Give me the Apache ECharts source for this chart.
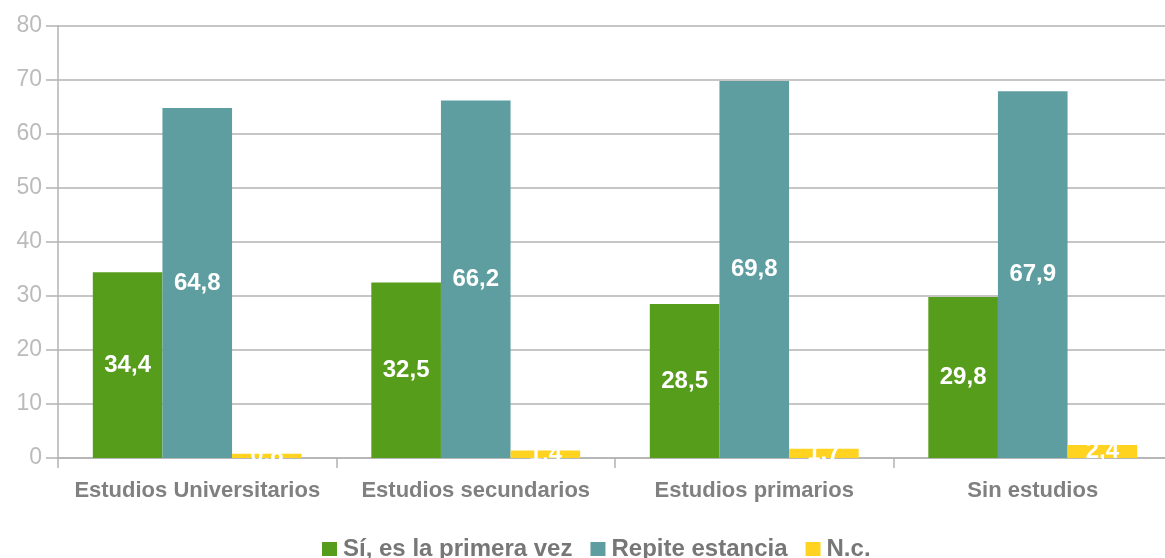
<!DOCTYPE html>
<html><head><meta charset="utf-8">
<script src="https://cdn.jsdelivr.net/npm/echarts@6/dist/echarts.min.js"></script>
<style>html,body{margin:0;padding:0;background:#fff;overflow:hidden}#c{width:1172px;height:558px}</style>
</head><body><div id="c"></div>
<script>
const categories = ['Estudios Universitarios', 'Estudios secundarios', 'Estudios primarios', 'Sin estudios'];
const seriesNames = ['Sí, es la primera vez', 'Repite estancia', 'N.c.'];
const primeraVez = [34.4, 32.5, 28.5, 29.8];
const repite = [64.8, 66.2, 69.8, 67.9];
const nc = [0.8, 1.4, 1.7, 2.4];
const colors = ['#579d1c', '#5f9ea0', '#ffd320'];

const chart = echarts.init(document.getElementById('c'));
const lbl = {
  show: true, position: 'inside', color: '#fff', fontWeight: 'bold', fontSize: 24,
  fontFamily: 'Liberation Sans',
  formatter: p => String(p.value).replace('.', ',')
};
const mk = (name, data, i) => ({
  name, type: 'bar', data, barGap: '0%', barCategoryGap: '25%',
  itemStyle: { color: colors[i] }, label: lbl
});
chart.setOption({
  animation: false,
  textStyle: { fontFamily: 'Liberation Sans' },
  grid: { left: 58, right: 0, top: 26, bottom: 100 },
  legend: {
    bottom: -8, left: 317, itemWidth: 15, itemHeight: 14, itemGap: 18,
    icon: 'rect',
    textStyle: { fontSize: 24, fontWeight: 'bold', color: '#777', fontFamily: 'Liberation Sans', padding: [0, 0, 0, 1] },
    data: seriesNames
  },
  xAxis: {
    type: 'category', data: categories,
    axisLine: { lineStyle: { color: '#b3b3b3', width: 1.5 } },
    axisTick: { show: true, length: 10, interval: 0, lineStyle: { color: '#b3b3b3', width: 1.5 } },
    axisLabel: { fontSize: 22, fontWeight: 'bold', color: '#808080', margin: 22, interval: 0 }
  },
  yAxis: {
    type: 'value', min: 0, max: 80, interval: 10,
    axisLine: { show: true, lineStyle: { color: '#b3b3b3', width: 1.5 } },
    axisTick: { show: true, length: 12, inside: false, lineStyle: { color: '#b3b3b3', width: 1.5 } },
    axisLabel: { fontSize: 23, color: '#bbbbbb', margin: 16 },
    splitLine: { lineStyle: { color: '#b3b3b3', width: 1.5 } }
  },
  series: [mk(seriesNames[0], primeraVez, 0), mk(seriesNames[1], repite, 1), mk(seriesNames[2], nc, 2)]
});
</script></body></html>
